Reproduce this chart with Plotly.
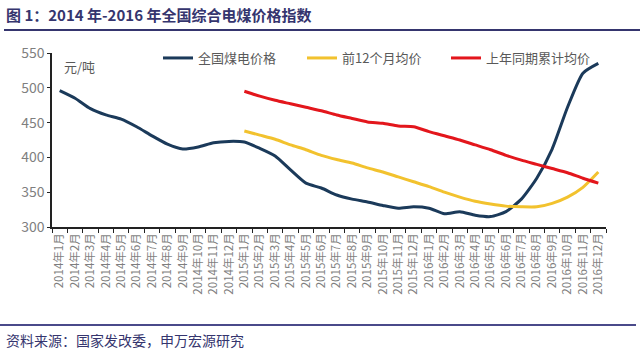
import plotly.graph_objects as go

months = [f"{y}年{m}月" for y in (2014, 2015, 2016) for m in range(1, 13)]

coal_price = [496, 485, 470, 461, 455, 444, 431, 419, 412, 415, 421, 423,
              422, 413, 402, 382, 363, 356, 346, 340, 336, 331, 327, 329,
              327, 319, 322, 317, 315, 322, 340, 370, 412, 472, 521, 535]

avg_12m = [None] * 12 + [438, 432, 426, 418, 411, 403, 397, 392, 385, 379, 372, 365,
                         358, 350, 343, 337, 333, 330, 329, 329, 334, 343, 357, 379]

prev_year_cum = [None] * 12 + [495, 488, 482, 477, 472, 467, 461, 456, 451, 449, 445, 444,
                               437, 431, 425, 418, 411, 403, 396, 390, 384, 378, 370, 363]

y_ticks = [300, 350, 400, 450, 500, 550]

FONT = "Noto Sans CJK SC"
fig = go.Figure()
fig.add_trace(go.Scatter(x=months, y=coal_price, mode="lines", name="全国煤电价格",
                         line=dict(color="#1b3a5a", width=3, shape="spline", smoothing=0.6)))
fig.add_trace(go.Scatter(x=months, y=avg_12m, mode="lines", name="前12个月均价",
                         line=dict(color="#f2c22e", width=3, shape="spline", smoothing=0.6)))
fig.add_trace(go.Scatter(x=months, y=prev_year_cum, mode="lines", name="上年同期累计均价",
                         line=dict(color="#e3161c", width=3, shape="spline", smoothing=0.6)))

L, R, T, B = 52, 34, 53, 123
PW, PH = 640 - L - R, 350 - T - B

def px(x):
    return (x - L) / PW

def py(y):
    return (350 - B - y) / PH

fig.update_layout(
    width=640, height=350,
    margin=dict(l=L, r=R, t=T, b=B),
    paper_bgcolor="white", plot_bgcolor="white",
    font=dict(family=FONT, color="#595959"),
    showlegend=True,
    legend=dict(orientation="h", x=px(158), y=py(58), xanchor="left", yanchor="middle",
                font=dict(size=13, color="#595959"), bgcolor="rgba(0,0,0,0)",
                entrywidth=99, entrywidthmode="pixels", itemwidth=30),
    xaxis=dict(type="category", range=[-0.5, 35.5], tickangle=-90,
               tickfont=dict(size=11.5, color="#7f7f7f", family=FONT),
               showline=True, linecolor="#222", linewidth=1.5, ticks="outside", ticklen=4,
               tickcolor="#222", tickson="boundaries", showgrid=False, zeroline=False),
    yaxis=dict(range=[300, 550], tickvals=y_ticks, tickfont=dict(size=14, color="#7f7f7f", family=FONT),
               showline=True, linecolor="#222", linewidth=1.5, ticks="outside", ticklen=3,
               tickcolor="#222", showgrid=False, zeroline=False),
)

fig.add_annotation(text="元/吨", xref="paper", yref="paper", x=px(62), y=py(66),
                   xanchor="left", yanchor="middle", showarrow=False,
                   font=dict(size=13, color="#595959", family=FONT))
fig.add_annotation(text="<b>图 1：2014 年-2016 年全国综合电煤价格指数</b>", xref="paper", yref="paper",
                   x=px(4), y=py(14), xanchor="left", yanchor="middle", showarrow=False,
                   font=dict(size=15, color="#35356e", family=FONT))
fig.add_annotation(text="资料来源：国家发改委，申万宏源研究", xref="paper", yref="paper",
                   x=px(4), y=py(340), xanchor="left", yanchor="middle", showarrow=False,
                   font=dict(size=14, color="#35356e", family=FONT))
fig.add_shape(type="line", xref="paper", yref="paper", x0=px(4), x1=px(640), y0=py(30), y1=py(30),
              line=dict(color="#35356e", width=2))
fig.add_shape(type="line", xref="paper", yref="paper", x0=px(0), x1=px(636), y0=py(325), y1=py(325),
              line=dict(color="#4a4a8a", width=2))

fig.write_html("out.html")
